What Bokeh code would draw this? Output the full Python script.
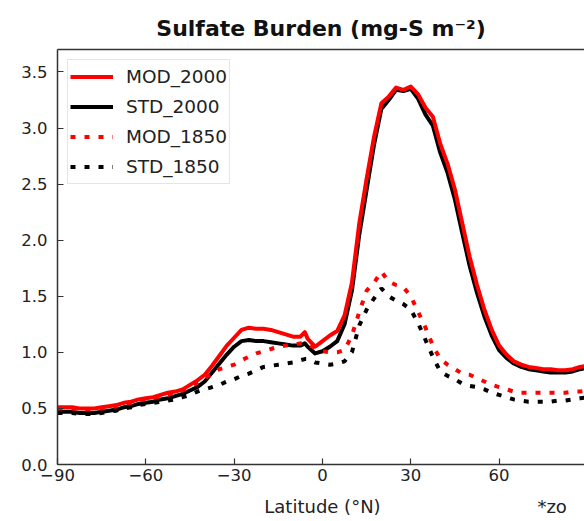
from bokeh.plotting import figure
from bokeh.models import Range1d, FixedTicker, LinearAxis, Legend, LegendItem
from bokeh.embed import file_html
from bokeh.resources import INLINE

lat = [-90, -87.5, -85, -82.5, -80, -77.5, -75, -72.5, -70, -67.5,
       -65, -62.5, -60, -57.5, -55, -52.5, -50, -47.5, -45, -42.5,
       -40, -37.5, -35, -32.5, -30, -27.5, -25, -22.5, -20, -17.5,
       -15, -12.5, -10, -7.5, -6, -5, -2.5, 0, 2.5, 5,
       7.5, 10, 12.5, 15, 17.5, 20, 22.5, 25, 27.5, 30,
       32.5, 35, 37.5, 40, 42.5, 45, 47.5, 50, 52.5, 55,
       57.5, 60, 62.5, 65, 67.5, 70, 72.5, 75, 77.5, 80,
       82.5, 85, 87.5, 90]

mod_2000 = [0.51, 0.51, 0.51, 0.50, 0.50, 0.50, 0.51, 0.52, 0.53, 0.55,
            0.56, 0.58, 0.59, 0.60, 0.62, 0.64, 0.65, 0.67, 0.71, 0.75,
            0.80, 0.88, 0.97, 1.06, 1.13, 1.20, 1.22, 1.21, 1.21, 1.20,
            1.18, 1.16, 1.14, 1.14, 1.18, 1.12, 1.05, 1.10, 1.15, 1.19,
            1.33, 1.62, 2.15, 2.55, 2.92, 3.22, 3.28, 3.36, 3.34, 3.37,
            3.30, 3.18, 3.10, 2.86, 2.68, 2.45, 2.15, 1.85, 1.60, 1.38,
            1.20, 1.06, 0.98, 0.92, 0.89, 0.87, 0.86, 0.85, 0.85, 0.84,
            0.84, 0.85, 0.87, 0.88]

std_2000 = [0.47, 0.47, 0.47, 0.46, 0.46, 0.46, 0.47, 0.48, 0.49, 0.51,
            0.52, 0.54, 0.55, 0.56, 0.58, 0.59, 0.61, 0.63, 0.66, 0.69,
            0.74, 0.82, 0.90, 0.98, 1.05, 1.10, 1.11, 1.10, 1.10, 1.09,
            1.08, 1.07, 1.06, 1.06, 1.08, 1.05, 0.99, 1.01, 1.05, 1.10,
            1.25, 1.55, 2.05, 2.45, 2.85, 3.17, 3.25, 3.34, 3.33, 3.35,
            3.26, 3.12, 3.02, 2.78, 2.60, 2.36, 2.06, 1.77, 1.53, 1.32,
            1.15, 1.02, 0.95, 0.90, 0.87, 0.85, 0.84, 0.83, 0.82, 0.82,
            0.82, 0.83, 0.85, 0.86]

mod_1850 = [0.50, 0.50, 0.50, 0.49, 0.49, 0.49, 0.50, 0.51, 0.52, 0.54,
            0.55, 0.57, 0.58, 0.59, 0.61, 0.62, 0.64, 0.66, 0.69, 0.73,
            0.77, 0.81, 0.85, 0.87, 0.89, 0.93, 0.96, 0.99, 1.01, 1.03,
            1.05, 1.06, 1.07, 1.08, 1.08, 1.07, 1.04, 1.01, 1.00, 1.00,
            1.02, 1.15, 1.36, 1.55, 1.62, 1.72, 1.63, 1.60, 1.58, 1.50,
            1.36, 1.22, 1.06, 0.94, 0.89, 0.85, 0.81, 0.80, 0.77, 0.74,
            0.71, 0.69, 0.67, 0.65, 0.64, 0.64, 0.64, 0.64, 0.64, 0.64,
            0.64, 0.65, 0.65, 0.66]

std_1850 = [0.46, 0.46, 0.46, 0.45, 0.45, 0.45, 0.46, 0.47, 0.48, 0.50,
            0.51, 0.53, 0.54, 0.55, 0.56, 0.57, 0.58, 0.60, 0.62, 0.65,
            0.67, 0.69, 0.71, 0.74, 0.76, 0.79, 0.81, 0.84, 0.87, 0.88,
            0.89, 0.90, 0.91, 0.93, 0.94, 0.94, 0.91, 0.90, 0.89, 0.90,
            0.92, 1.00, 1.24, 1.38, 1.48, 1.57, 1.50, 1.46, 1.43, 1.38,
            1.26, 1.11, 0.96, 0.83, 0.79, 0.76, 0.72, 0.70, 0.69, 0.67,
            0.64, 0.62, 0.60, 0.58, 0.57, 0.56, 0.56, 0.56, 0.56, 0.57,
            0.57, 0.58, 0.59, 0.60]

series_names = ["MOD_2000", "STD_2000", "MOD_1850", "STD_1850"]
x_ticks = [-90, -60, -30, 0, 30, 60, 90]
x_tick_labels = ["\u221290", "\u221260", "\u221230", "0", "30", "60", "90"]
y_ticks = [0.0, 0.5, 1.0, 1.5, 2.0, 2.5, 3.0, 3.5]
y_tick_labels = ["0.0", "0.5", "1.0", "1.5", "2.0", "2.5", "3.0", "3.5"]
title_text = "Sulfate Burden (mg-S m\u207b\u00b2)"
x_label = "Latitude (\u00b0N)"
footnote = "*zo"

FONT = "DejaVu Sans"
SPINE = "#333333"
TXT = "#222222"

p = figure(width=584, height=521, output_backend="svg", toolbar_location=None,
           x_range=Range1d(-90, 89.0), y_range=Range1d(0, 3.7),
           min_border_left=57, min_border_right=0, min_border_top=49,
           min_border_bottom=57, title=title_text)
p.xgrid.visible = False
p.ygrid.visible = False
p.outline_line_color = None
p.background_fill_color = "white"
p.border_fill_color = "white"

p.title.text_font = FONT
p.title.text_font_size = "22px"
p.title.text_font_style = "bold"
p.title.text_color = "#111111"
p.title.align = "center"
p.title.standoff = 18

for ax in (p.xaxis[0], p.yaxis[0]):
    ax.axis_line_color = SPINE
    ax.axis_line_width = 1.5
    ax.major_tick_line_color = SPINE
    ax.major_tick_line_width = 1.2
    ax.major_tick_in = 6
    ax.major_tick_out = 0
    ax.minor_tick_in = 0
    ax.minor_tick_out = 0
    ax.major_label_text_font = FONT
    ax.major_label_text_font_size = "16.5px"
    ax.major_label_text_color = TXT

p.xaxis[0].ticker = FixedTicker(ticks=x_ticks)
p.xaxis[0].major_label_overrides = dict(zip(x_ticks, x_tick_labels))
p.xaxis[0].major_label_standoff = 4

p.yaxis[0].ticker = FixedTicker(ticks=y_ticks)
p.yaxis[0].major_label_overrides = dict(zip(y_ticks, y_tick_labels))
p.yaxis[0].major_label_standoff = 10

# second, line-less axis below: carries the axis title (centred at 0) and the footnote
note_pos = [0, 78]
note_axis = LinearAxis(ticker=FixedTicker(ticks=note_pos),
                       major_label_overrides=dict(zip(note_pos, [x_label, footnote])),
                       axis_line_color=None, major_tick_in=0, major_tick_out=0,
                       minor_tick_in=0, minor_tick_out=0, major_label_standoff=12,
                       major_label_text_font=FONT, major_label_text_font_size="18px",
                       major_label_text_color=TXT)
p.add_layout(note_axis, "below")

top = LinearAxis(ticker=FixedTicker(ticks=[]), axis_line_color=SPINE, axis_line_width=1.5,
                 major_tick_in=0, major_tick_out=0, minor_tick_in=0, minor_tick_out=0,
                 major_label_text_font_size="0px", major_label_standoff=0)
p.add_layout(top, "above")

r_std2000 = p.line(lat, std_2000, line_color="black", line_width=4, line_join="round")
r_mod2000 = p.line(lat, mod_2000, line_color="red", line_width=4, line_join="round")
r_std1850 = p.line(lat, std_1850, line_color="black", line_width=4, line_dash="5 9")
r_mod1850 = p.line(lat, mod_1850, line_color="red", line_width=4, line_dash="5 9")

legend = Legend(items=[LegendItem(label=series_names[0], renderers=[r_mod2000]),
                       LegendItem(label=series_names[1], renderers=[r_std2000]),
                       LegendItem(label=series_names[2], renderers=[r_mod1850]),
                       LegendItem(label=series_names[3], renderers=[r_std1850])],
                location="top_left", margin=10, padding=2, spacing=1,
                glyph_width=43, glyph_height=29, label_height=29, label_standoff=13,
                label_text_font=FONT, label_text_font_size="18.5px", label_text_color=TXT,
                border_line_color="#cccccc", border_line_width=1,
                background_fill_color="white", background_fill_alpha=0.8)
p.add_layout(legend)

open("out.html", "w").write(file_html(p, INLINE))
